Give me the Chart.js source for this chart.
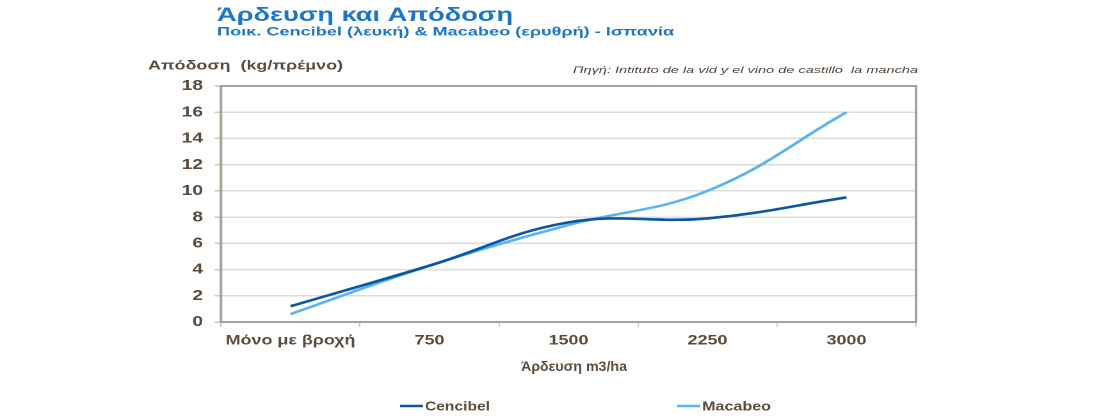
<!DOCTYPE html>
<html>
<head>
<meta charset="utf-8">
<script src="https://cdn.jsdelivr.net/npm/chart.js@4/dist/chart.umd.min.js"></script>
<style>
  html, body { margin: 0; padding: 0; background: #ffffff; overflow: hidden; }
  #wrap { width: 1110px; height: 420px; position: relative; }
  #c { position: absolute; left: 0; top: 0; transform-origin: 0 0; }
</style>
</head>
<body>
<div id="wrap"><canvas id="c"></canvas></div>
<script>
// ---- data ----
const categories = ['Μόνο με βροχή', '750', '1500', '2250', '3000'];
const cencibel = [1.2, 4.3, 7.6, 7.9, 9.5];
const macabeo = [0.6, 4.3, 7.4, 10.0, 16.0];
const seriesNames = ['Cencibel', 'Macabeo'];
const yMin = 0, yMax = 18, yStep = 2;

const titleText = 'Άρδευση και Απόδοση';
const subtitleText = 'Ποικ. Cencibel (λευκή) & Macabeo (ερυθρή) - Ισπανία';
const yTitleText = 'Απόδοση  (kg/πρέμνο)';
const sourceText = 'Πηγή: Intituto de la vid y el vino de castillo  la mancha';
const xTitleText = 'Άρδευση m3/ha';

// ---- layout (screen px) ----
const SW = 1110, SH = 420;
const W = 867;            // canvas logical width, stretched to SW
const S = SW / W;
const canvas = document.getElementById('c');
canvas.style.width = W + 'px';
canvas.style.height = SH + 'px';
canvas.style.transform = 'scaleX(' + S + ')';

const brown = '#5b4b3d';
const blue = '#1b76c5';
const frame = '#a9a196';
const FONT = '"Liberation Sans", Arial, sans-serif';

function fitText(ctx, text, font, color, x1, x2, y) {
  ctx.save();
  ctx.font = font;
  ctx.fillStyle = color;
  ctx.textAlign = 'left';
  ctx.textBaseline = 'alphabetic';
  const w = ctx.measureText(text).width;
  const target = (x2 - x1) / S;
  ctx.translate(x1 / S, y);
  ctx.scale(target / w, 1);
  ctx.fillText(text, 0, 0);
  ctx.restore();
}

const decor = {
  id: 'decor',
  beforeDatasetsDraw(chart) {
    const ctx = chart.ctx, a = chart.chartArea;
    ctx.save();
    ctx.strokeStyle = frame;
    ctx.lineWidth = 2;
    ctx.strokeRect(a.left, a.top, a.right - a.left, a.bottom - a.top);
    ctx.restore();
  },
  afterDraw(chart) {
    const ctx = chart.ctx;
    fitText(ctx, titleText, 'bold 19px ' + FONT, blue, 217, 513, 21);
    fitText(ctx, subtitleText, 'bold 11.5px ' + FONT, blue, 217, 674, 35.5);
    fitText(ctx, yTitleText, 'bold 12.5px ' + FONT, brown, 148, 343, 69.5);
    fitText(ctx, sourceText, 'italic 9.5px ' + FONT, '#4e4036', 573, 918, 73);
    fitText(ctx, xTitleText, 'bold 14px ' + FONT, brown, 521, 627, 371);
    // legend
    const ds = chart.data.datasets;
    const items = [[400, 423, 425, 490], [677, 700, 702, 771]];
    ds.forEach((d, i) => {
      const it = items[i];
      ctx.save();
      ctx.strokeStyle = d.borderColor;
      ctx.lineWidth = 2.5;
      ctx.beginPath();
      ctx.moveTo(it[0] / S, 406);
      ctx.lineTo(it[1] / S, 406);
      ctx.stroke();
      ctx.restore();
      fitText(ctx, d.label, 'bold 13px ' + FONT, brown, it[2], it[3], 410.5);
    });
  }
};

new Chart(canvas, {
  type: 'line',
  data: {
    labels: categories,
    datasets: [
      { label: seriesNames[0], data: cencibel, borderColor: '#0c56a4', backgroundColor: '#0c56a4',
        borderWidth: 2.6, pointRadius: 0, tension: 0.4, fill: false },
      { label: seriesNames[1], data: macabeo, borderColor: '#5cb4ec', backgroundColor: '#5cb4ec',
        borderWidth: 2.6, pointRadius: 0, tension: 0.4, fill: false }
    ]
  },
  options: {
    responsive: false,
    animation: false,
    devicePixelRatio: 2,
    layout: { padding: { top: 86, right: W - 916 / S, left: 0, bottom: 0 } },
    plugins: { legend: { display: false }, tooltip: { enabled: false }, title: { display: false } },
    scales: {
      x: {
        offset: true,
        grid: { display: true, drawOnChartArea: false, offset: true, tickLength: 5, tickColor: '#cfc8be', lineWidth: 1 },
        border: { display: true, color: frame, width: 2 },
        ticks: { color: brown, font: { family: FONT, size: 14, weight: 'bold' }, padding: 5, maxRotation: 0, autoSkip: false },
        afterFit(scale) { scale.height = SH - 322; }
      },
      y: {
        min: yMin, max: yMax,
        grid: { color: '#dcdcdc', lineWidth: 1.5, tickLength: 5, tickColor: '#cfc8be' },
        border: { display: true, color: frame, width: 2 },
        ticks: { stepSize: yStep, color: brown, font: { family: FONT, size: 15, weight: 'bold' }, padding: 9 },
        afterFit(scale) { scale.width = 221 / S; }
      }
    }
  },
  plugins: [decor]
});
</script>
</body>
</html>
